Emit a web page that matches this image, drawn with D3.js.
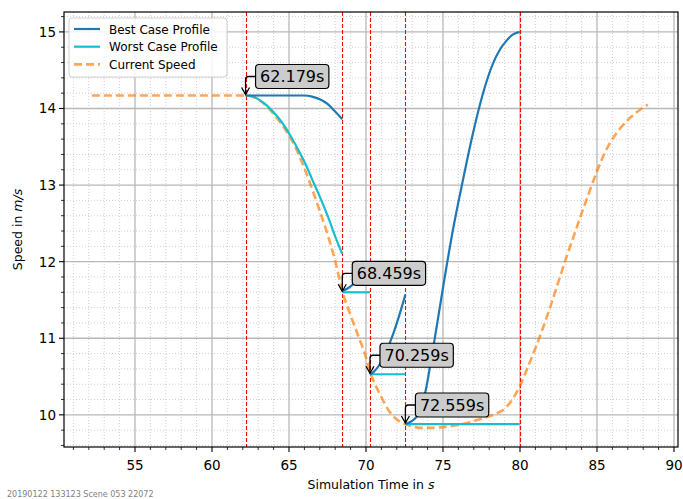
<!DOCTYPE html>
<html>
<head>
<meta charset="utf-8">
<script src="https://cdn.jsdelivr.net/npm/d3@7"></script>
<style>
  html, body { margin: 0; padding: 0; background: #fff; }
  svg { display: block; font-family: "DejaVu Sans", sans-serif; }
</style>
</head>
<body>
<svg id="chart" width="683" height="499"></svg>
<script>
// ---- data ----
const currentTime  = [52.2, 54, 56, 58, 60, 62, 62.5, 63.0, 63.5, 64.0, 64.5, 65.0, 65.5, 66.0, 66.5, 67.0, 67.5, 68.0, 68.459, 69.0, 69.5, 70.0, 70.259, 70.5, 71.0, 71.5, 72.0, 72.559, 73.0, 73.5, 74.0, 75.0, 76.0, 76.5, 77.0, 77.5, 78.0, 78.5, 79.0, 79.5, 80.0, 80.5, 81.0, 81.5, 82.0, 82.5, 83.0, 83.5, 84.0, 84.5, 85.0, 85.5, 86.0, 86.5, 87.0, 87.5, 88.0, 88.3];
const currentSpeed = [14.17, 14.17, 14.17, 14.17, 14.17, 14.17, 14.16, 14.12, 14.04, 13.93, 13.8, 13.65, 13.46, 13.22, 12.95, 12.66, 12.36, 12.01, 11.62, 11.3, 11.03, 10.75, 10.56, 10.44, 10.23, 10.05, 9.94, 9.88, 9.85, 9.83, 9.83, 9.84, 9.87, 9.89, 9.92, 9.95, 9.98, 10.02, 10.08, 10.2, 10.38, 10.62, 10.87, 11.14, 11.43, 11.74, 12.05, 12.34, 12.63, 12.91, 13.18, 13.42, 13.6, 13.74, 13.85, 13.94, 14.01, 14.05];

const bestTime = [
  [62.179, 63, 64, 65, 66, 66.5, 67, 67.5, 68, 68.459],
  [68.459, 68.8, 69.14, 69.5, 69.9, 70.259],
  [70.259, 70.5, 70.9, 71.3, 71.7, 72.1, 72.559],
  [72.559, 73.0, 73.3, 73.6, 73.9, 74.2, 74.5, 75.0, 75.65, 76.3, 76.95, 77.6, 78.25, 78.7, 79.1, 79.5, 79.979]
];
const bestSpeed = [
  [14.17, 14.17, 14.17, 14.17, 14.17, 14.155, 14.12, 14.06, 13.96, 13.86],
  [11.62, 11.65, 11.7, 11.77, 11.86, 11.95],
  [10.53, 10.56, 10.66, 10.82, 11.02, 11.26, 11.57],
  [9.88, 9.92, 9.98, 10.1, 10.34, 10.68, 11.04, 11.66, 12.42, 13.07, 13.68, 14.2, 14.59, 14.77, 14.88, 14.96, 15.0]
];

const worstTime = [
  [62.179, 62.6, 63.1, 63.5, 64.0, 64.5, 65.05, 65.6, 66.13, 66.6, 67.0, 67.64, 68.0, 68.459],
  [68.459, 70.259],
  [70.259, 72.559],
  [72.559, 79.979]
];
const worstSpeed = [
  [14.17, 14.16, 14.11, 14.05, 13.95, 13.83, 13.66, 13.46, 13.25, 13.03, 12.85, 12.53, 12.33, 12.1],
  [11.6, 11.6],
  [10.53, 10.53],
  [9.88, 9.88]
];

const markerTimes  = [62.179, 68.459, 70.259, 72.559, 79.979];
const annoTimes    = [62.179, 68.459, 70.259, 72.559];
const annoSpeeds   = [14.17, 11.6, 10.53, 9.88];
const annoLabels   = ["62.179s", "68.459s", "70.259s", "72.559s"];

const xTicks = [55, 60, 65, 70, 75, 80, 85, 90];
const yTicks = [10, 11, 12, 13, 14, 15];
const legendLabels = ["Best Case Profile", "Worst Case Profile", "Current Speed"];
const footerText = "20190122 133123 Scene 053 22072";

// ---- layout ----
const svg = d3.select("#chart");
const L = 64, R = 678, T = 12, B = 447;
const x = d3.scaleLinear().domain([50.39, 90.26]).range([L, R]);
const y = d3.scaleLinear().domain([9.58, 15.26]).range([B, T]);

const colBest = "#1f77b4", colWorst = "#17becf", colCur = "#ff7f0e";

// clip
svg.append("clipPath").attr("id", "clip").append("rect")
  .attr("x", L).attr("y", T).attr("width", R - L).attr("height", B - T);

// minor grid
const xMinor = d3.range(51, 91, 1).filter(v => v % 5 !== 0);
const yMinor = d3.range(9.6, 15.3, 0.2).map(v => +v.toFixed(1)).filter(v => Math.abs(v - Math.round(v)) > 0.01);
const grid = svg.append("g");
grid.selectAll(".xm").data(xMinor).join("line")
  .attr("x1", d => x(d)).attr("x2", d => x(d)).attr("y1", T).attr("y2", B)
  .attr("stroke", "#cfcfcf").attr("stroke-width", 1).attr("stroke-dasharray", "1,2");
grid.selectAll(".ym").data(yMinor).join("line")
  .attr("y1", d => y(d)).attr("y2", d => y(d)).attr("x1", L).attr("x2", R)
  .attr("stroke", "#cfcfcf").attr("stroke-width", 1).attr("stroke-dasharray", "1,2");
// major grid
grid.selectAll(".xM").data(xTicks).join("line")
  .attr("x1", d => x(d)).attr("x2", d => x(d)).attr("y1", T).attr("y2", B)
  .attr("stroke", "#b8b8b8").attr("stroke-width", 1.3);
grid.selectAll(".yM").data(yTicks).join("line")
  .attr("y1", d => y(d)).attr("y2", d => y(d)).attr("x1", L).attr("x2", R)
  .attr("stroke", "#b8b8b8").attr("stroke-width", 1.3);

const plot = svg.append("g").attr("clip-path", "url(#clip)");

// red markers
plot.selectAll(".vm").data(markerTimes).join("line")
  .attr("x1", d => Math.round(x(d)) + 0.5).attr("x2", d => Math.round(x(d)) + 0.5)
  .attr("y1", T).attr("y2", B)
  .attr("stroke", "#ff0000").attr("stroke-width", 1.1).attr("stroke-dasharray", "4,2");

const line = d3.line().x(d => x(d[0])).y(d => y(d[1])).curve(d3.curveMonotoneX);

// current speed
plot.append("path")
  .attr("d", line(d3.zip(currentTime, currentSpeed)))
  .attr("fill", "none").attr("stroke", colCur).attr("stroke-opacity", 0.7)
  .attr("stroke-width", 2.6).attr("stroke-dasharray", "8,4");

// worst
worstTime.forEach((ts, i) => {
  plot.append("path").attr("d", line(d3.zip(ts, worstSpeed[i])))
    .attr("fill", "none").attr("stroke", colWorst).attr("stroke-width", 2.2);
});
// best
bestTime.forEach((ts, i) => {
  plot.append("path").attr("d", line(d3.zip(ts, bestSpeed[i])))
    .attr("fill", "none").attr("stroke", colBest).attr("stroke-width", 2.2);
});

// annotations
annoTimes.forEach((t, i) => {
  const px = x(t), py = y(annoSpeeds[i]);
  const g = svg.append("g");
  const midY = py - 19;
  g.append("path")
    .attr("d", `M${px + 10},${midY} H${px + 3} Q${px},${midY} ${px},${midY + 3} V${py - 1}`)
    .attr("fill", "none").attr("stroke", "#000").attr("stroke-width", 1.3);
  g.append("path")
    .attr("d", `M${px - 4},${py - 8} L${px},${py - 1} L${px + 4},${py - 8}`)
    .attr("fill", "none").attr("stroke", "#000").attr("stroke-width", 1.3);
  const txt = g.append("text").attr("x", 0).attr("y", 0)
    .attr("font-size", "16px").text(annoLabels[i]);
  const w = txt.node().getComputedTextLength();
  g.insert("rect", "text")
    .attr("x", px + 10).attr("y", py - 31).attr("width", w + 9).attr("height", 24)
    .attr("rx", 3.5).attr("fill", "#cccccc").attr("stroke", "#000").attr("stroke-width", 1.2);
  txt.attr("x", px + 10 + 4.5).attr("y", py - 31 + 18);
});

// frame
svg.append("rect").attr("x", L).attr("y", T).attr("width", R - L).attr("height", B - T)
  .attr("fill", "none").attr("stroke", "#000").attr("stroke-width", 1.2);

// ticks
const ax = svg.append("g");
ax.selectAll(".xt").data(xTicks).join("line")
  .attr("x1", d => x(d)).attr("x2", d => x(d)).attr("y1", B).attr("y2", B + 5)
  .attr("stroke", "#000").attr("stroke-width", 1.1);
ax.selectAll(".xmt").data(xMinor.filter(v => v > 50.39)).join("line")
  .attr("x1", d => x(d)).attr("x2", d => x(d)).attr("y1", B).attr("y2", B + 3)
  .attr("stroke", "#000").attr("stroke-width", 0.8);
ax.selectAll(".xl").data(xTicks).join("text")
  .attr("x", d => x(d)).attr("y", B + 23).attr("text-anchor", "middle")
  .attr("font-size", "13.5px").text(d => d);
ax.selectAll(".yt").data(yTicks).join("line")
  .attr("y1", d => y(d)).attr("y2", d => y(d)).attr("x1", L - 5).attr("x2", L)
  .attr("stroke", "#000").attr("stroke-width", 1.1);
ax.selectAll(".ymt").data(yMinor).join("line")
  .attr("y1", d => y(d)).attr("y2", d => y(d)).attr("x1", L - 3).attr("x2", L)
  .attr("stroke", "#000").attr("stroke-width", 0.8);
ax.selectAll(".yl").data(yTicks).join("text")
  .attr("x", L - 8).attr("y", d => y(d) + 5).attr("text-anchor", "end")
  .attr("font-size", "13.5px").text(d => d);

// axis labels
const xl = svg.append("text").attr("x", (L + R) / 2).attr("y", 489)
  .attr("text-anchor", "middle").attr("font-size", "12.5px");
xl.append("tspan").text("Simulation Time in ");
xl.append("tspan").attr("font-style", "italic").text("s");

const yl = svg.append("text").attr("transform", `translate(22,${(T + B) / 2}) rotate(-90)`)
  .attr("text-anchor", "middle").attr("font-size", "12.5px");
yl.append("tspan").text("Speed in ");
yl.append("tspan").attr("font-style", "italic").text("m/s");

// legend
const lg = svg.append("g");
lg.append("rect").attr("x", 69).attr("y", 18).attr("width", 158).attr("height", 59)
  .attr("rx", 3).attr("fill", "#fff").attr("fill-opacity", 0.85)
  .attr("stroke", "#d0d0d0").attr("stroke-width", 1);
const legCols = [colBest, colWorst, colCur];
legendLabels.forEach((lab, i) => {
  const ly = 29 + i * 17.7;
  const ln = lg.append("line").attr("x1", 74).attr("x2", 100).attr("y1", ly).attr("y2", ly)
    .attr("stroke", legCols[i]).attr("stroke-width", i === 2 ? 2.6 : 2.2);
  if (i === 2) ln.attr("stroke-dasharray", "8,4").attr("stroke-opacity", 0.7);
  lg.append("text").attr("x", 109).attr("y", ly + 4.5).attr("font-size", "12px").text(lab);
});

// footer
svg.append("text").attr("x", 7).attr("y", 497).attr("font-size", "8px")
  .attr("fill", "#808080").text(footerText);
</script>
</body>
</html>
